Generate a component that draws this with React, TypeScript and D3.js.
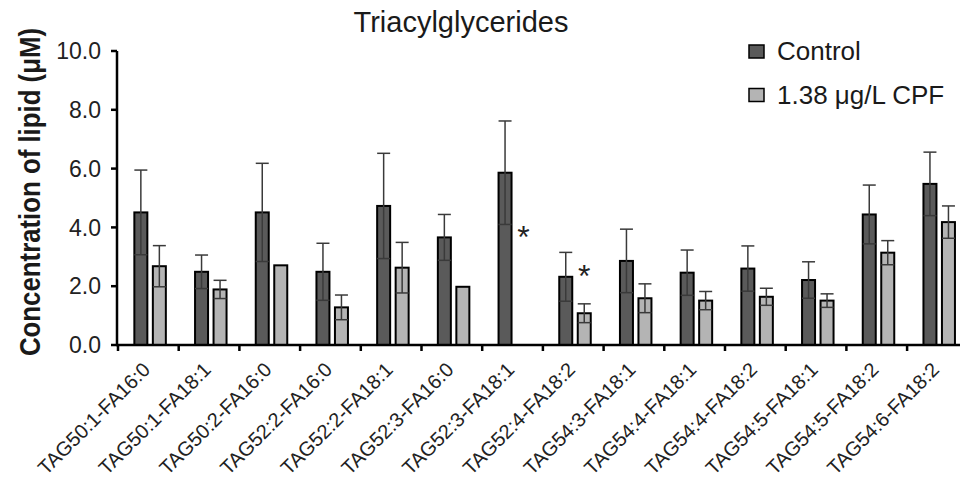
import React from 'react';
import * as d3 from 'd3';

const categories = [
  'TAG50:1-FA16:0', 'TAG50:1-FA18:1', 'TAG50:2-FA16:0', 'TAG52:2-FA16:0',
  'TAG52:2-FA18:1', 'TAG52:3-FA16:0', 'TAG52:3-FA18:1', 'TAG52:4-FA18:2',
  'TAG54:3-FA18:1', 'TAG54:4-FA18:1', 'TAG54:4-FA18:2', 'TAG54:5-FA18:1',
  'TAG54:5-FA18:2', 'TAG54:6-FA18:2',
];
const controlMean = [4.51, 2.49, 4.51, 2.49, 4.73, 3.66, 5.86, 2.32, 2.86, 2.46, 2.6, 2.21, 4.44, 5.48];
const controlErr = [1.44, 0.57, 1.67, 0.97, 1.79, 0.78, 1.76, 0.83, 1.08, 0.77, 0.77, 0.62, 1.0, 1.08];
const cpfMean: (number | null)[] = [2.68, 1.89, 2.71, 1.28, 2.63, 1.98, null, 1.08, 1.59, 1.51, 1.64, 1.51, 3.14, 4.18];
const cpfErr: (number | null)[] = [0.7, 0.31, null, 0.42, 0.86, null, null, 0.32, 0.49, 0.31, 0.29, 0.23, 0.41, 0.55];
const sigIndex = [6, 7];
const sigLevel = [3.91, 2.59];
const yTicks = [0, 2, 4, 6, 8, 10];
const seriesNames = ['Control', '1.38 μg/L CPF'];
const title = 'Triacylglycerides';
const yTitle = 'Concentration of lipid (μM)';

const FONT = "'Liberation Sans', Arial, sans-serif";
const CTRL_FILL = '#5a5a5a';
const CPF_FILL = '#b4b4b4';
const ERR = '#3a3a3a';

export default function App() {
  const W = 960, H = 483;
  const step = 60.7;
  const x = d3.scaleBand<string>().domain(categories).range([118, 118 + categories.length * step]).padding(0);
  const y = d3.scaleLinear().domain([0, 10]).range([345, 51]);
  const bw = 13;
  const center = (c: string) => (x(c) as number) + x.bandwidth() / 2;
  const ctrlX = (c: string) => center(c) - 14;
  const cpfX = (c: string) => center(c) + 4.5;
  const fmt = d3.format('.1f');

  const bars = (xs: (c: string) => number, means: (number | null)[], errs: (number | null)[], fill: string, key: string) =>
    categories.map((c, i) => {
      const v = means[i];
      if (v == null) return null;
      const e = errs[i];
      const bx = xs(c);
      const cx = bx + bw / 2;
      return (
        <g key={key + i}>
          <rect x={bx} y={y(v)} width={bw} height={y(0) - y(v)} fill={fill} stroke="#000" strokeWidth={2} />
          {e != null && (
            <g stroke={ERR} strokeWidth={1.5}>
              <line x1={cx} x2={cx} y1={y(v + e)} y2={y(v - e)} />
              <line x1={cx - 6.5} x2={cx + 6.5} y1={y(v + e)} y2={y(v + e)} />
              <line x1={bx} x2={bx + bw} y1={y(v - e)} y2={y(v - e)} />
            </g>
          )}
        </g>
      );
    });

  const boundaries = d3.range(categories.length + 1).map((i) => 118 + i * step);

  return (
    <svg width={W} height={H} style={{ position: 'absolute', left: 0, top: 0, background: '#fff' }} fontFamily={FONT}>
      <rect width={W} height={H} fill="#fff" />
      <text x={461} y={32} textAnchor="middle" fontSize={29} fill="#1a1a1a">{title}</text>

      {/* y title */}
      <text transform="translate(40,192) rotate(-90) scale(0.86,1)" textAnchor="middle" fontSize={30} fontWeight="bold" fill="#1a1a1a">{yTitle}</text>

      {bars(ctrlX, controlMean, controlErr, CTRL_FILL, 'c')}
      {bars(cpfX, cpfMean, cpfErr, CPF_FILL, 'p')}

      {/* y axis */}
      <line x1={117} x2={117} y1={y(10)} y2={y(0) + 1} stroke="#000" strokeWidth={2.5} />
      {yTicks.map((t) => (
        <g key={'yt' + t}>
          <line x1={111} x2={117} y1={y(t)} y2={y(t)} stroke="#000" strokeWidth={2.5} />
          <text x={101} y={y(t)} dy="0.36em" textAnchor="end" fontSize={23} fill="#222">{fmt(t)}</text>
        </g>
      ))}

      {/* x axis */}
      <line x1={116} x2={W} y1={y(0)} y2={y(0)} stroke="#000" strokeWidth={2.5} />
      {boundaries.map((b, i) => (
        <line key={'xt' + i} x1={b} x2={b} y1={y(0)} y2={y(0) + 6} stroke="#000" strokeWidth={2.5} />
      ))}
      {categories.map((c) => (
        <text key={'xl' + c} transform={`translate(${center(c) + 3},371) rotate(-45)`} textAnchor="end" fontSize={20} fill="#222">{c}</text>
      ))}

      {/* significance */}
      {sigIndex.map((idx, k) => (
        <text key={'s' + k} x={cpfX(categories[idx]) + bw / 2} y={y(sigLevel[k]) + 18} textAnchor="middle" fontSize={32} fill="#222">*</text>
      ))}

      {/* legend */}
      {seriesNames.map((s, i) => (
        <g key={'lg' + i}>
          <rect x={749} y={45 + i * 43.5} width={15} height={13} fill={i === 0 ? CTRL_FILL : CPF_FILL} stroke="#000" strokeWidth={1.5} />
          <text x={777} y={60 + i * 43.5} fontSize={26} fill="#1a1a1a">{s}</text>
        </g>
      ))}
    </svg>
  );
}
